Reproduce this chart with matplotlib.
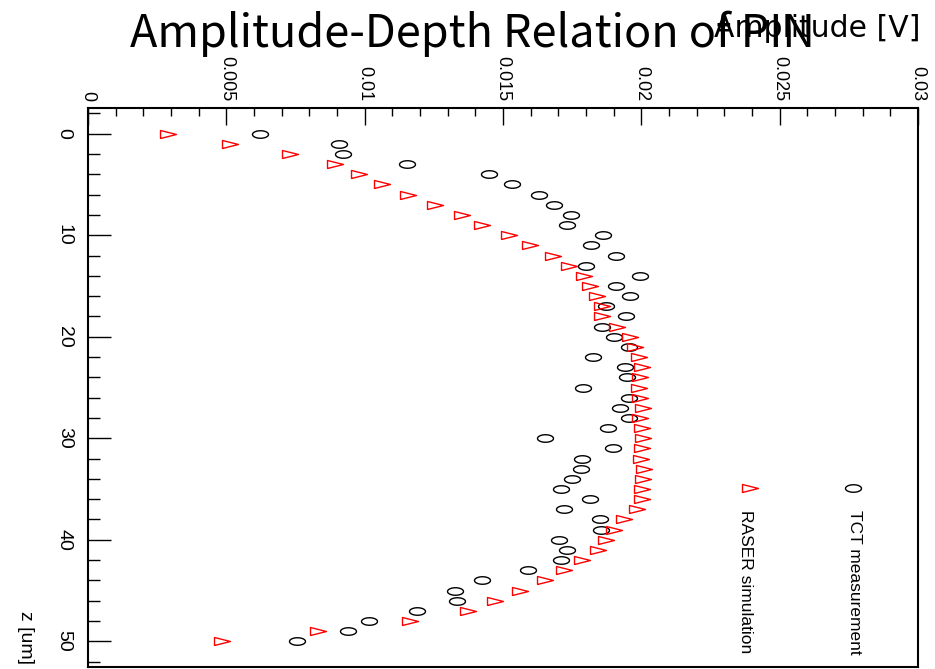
import numpy as np
import matplotlib
matplotlib.use("Agg")
import matplotlib.pyplot as plt
from matplotlib.path import Path
from matplotlib.ticker import MultipleLocator, FuncFormatter

# profundidade z (um)
z_um = np.arange(0, 51)

tct_mv = [6.22, 9.07, 9.20, 11.52, 14.51, 15.34, 16.31, 16.86, 17.46, 17.31,
          18.63, 18.19, 19.08, 17.99, 19.96, 19.08, 19.60, 18.72, 19.45, 18.57,
          19.01, 19.55, 18.27, 19.40, 19.47, 17.89, 19.54, 19.23, 19.54, 18.81,
          16.50, 18.96, 17.85, 17.82, 17.49, 17.10, 18.13, 17.21, 18.51, 18.55,
          17.04, 17.31, 17.09, 15.90, 14.23, 13.27, 13.35, 11.88, 10.14, 9.41,
          7.56]

# RASER simulation, amplitude em mV
raser_mv = [2.89, 5.13, 7.30, 8.91, 9.80, 10.64, 11.56, 12.55, 13.53, 14.23,
            15.23, 15.98, 16.82, 17.40, 17.92, 18.15, 18.41, 18.58, 18.57, 19.12,
            19.58, 19.78, 19.90, 20.02, 19.96, 19.90, 19.96, 20.05, 19.96, 20.02,
            20.05, 20.02, 19.98, 20.08, 20.05, 20.02, 20.02, 19.84, 19.38, 19.02,
            18.73, 18.45, 17.85, 17.22, 16.52, 15.62, 14.71, 13.75, 11.64, 8.33,
            4.83]

tct_amp = np.array(tct_mv) * 1e-3
raser_amp = np.array(raser_mv) * 1e-3

lab_font = ['Liberation Sans', 'DejaVu Sans']

# marcadores achatados (o grafico original foi girado e esticado)
ang = np.linspace(0, 2 * np.pi, 61)
ellipse = Path(np.column_stack([np.cos(ang), 0.47 * np.sin(ang)]))
triangle = Path([(-1, -0.5), (1, 0), (-1, 0.5), (-1, -0.5)])

fig = plt.figure(figsize=(9.35, 6.69), dpi=100)
ax = fig.add_axes([88 / 935, 2.3 / 669, 830 / 935, 558.4 / 669])

ax.plot(tct_amp, z_um, ls='none', marker=ellipse, ms=11.5, mfc='none',
        mec='black', mew=1.0)
ax.plot(raser_amp, z_um, ls='none', marker=triangle, ms=11.5, mfc='none',
        mec='red', mew=1.0)

ax.set_xlim(0, 0.03)
ax.set_ylim(52.5, -2.5)

ax.xaxis.set_major_locator(MultipleLocator(0.005))
ax.xaxis.set_minor_locator(MultipleLocator(0.001))
ax.xaxis.set_major_formatter(FuncFormatter(lambda v, p: '%g' % round(v, 4)))
ax.yaxis.set_major_locator(MultipleLocator(10))
ax.yaxis.set_minor_locator(MultipleLocator(2))

ax.tick_params(axis='x', which='both', direction='in', top=True, bottom=False,
               labeltop=True, labelbottom=False, width=1.0, color='black')
ax.tick_params(axis='x', which='major', length=12, pad=5)
ax.tick_params(axis='x', which='minor', length=6)
ax.tick_params(axis='y', which='both', direction='in', left=True, right=False,
               width=1.0)
ax.tick_params(axis='y', which='major', length=16.5, pad=11)
ax.tick_params(axis='y', which='minor', length=8.5)

for lab in ax.get_xticklabels():
    lab.set_rotation(-90)
    lab.set_ha('center')
    lab.set_va('bottom')
    lab.set_family(lab_font)
    lab.set_fontsize(13)
for lab in ax.get_yticklabels():
    lab.set_rotation(-90)
    lab.set_ha('right')
    lab.set_va('center')
    lab.set_family(lab_font)
    lab.set_fontsize(14)

for sp in ax.spines.values():
    sp.set_linewidth(1.5)

# titulos dos eixos
ax.set_ylabel('z [um]', rotation=-90, ha='center', va='bottom',
              family=lab_font, fontsize=14)
ax.yaxis.label.set_rotation_mode('default')
ax.yaxis.set_label_coords(-0.075, 0.004)
ax.xaxis.set_label_position('top')
ax.set_xlabel('Amplitude [V]', ha='right', va='baseline',
              family='DejaVu Sans', fontsize=21.5)
ax.xaxis.set_label_coords(1.003, (666.7 - 37) / 558.4)

# legenda (desenhada a mao, girada como o resto)
ax.plot([0.922], [0.320], transform=ax.transAxes, ls='none', marker=ellipse,
        ms=11.5, mfc='none', mec='black', mew=1.0, clip_on=False)
ax.plot([0.798], [0.320], transform=ax.transAxes, ls='none', marker=triangle,
        ms=11.5, mfc='none', mec='red', mew=1.0, clip_on=False)
ax.text(0.924, 0.281, 'TCT measurement', transform=ax.transAxes, rotation=-90,
        ha='center', va='top', family=lab_font, fontsize=12.5)
ax.text(0.792, 0.281, 'RASER simulation', transform=ax.transAxes, rotation=-90,
        ha='center', va='top', family=lab_font, fontsize=12.5)

fig.text(0.505, 1 - 46.7 / 669, 'Amplitude-Depth Relation of PIN', ha='center',
         va='baseline', family=['Noto Sans CJK SC', 'DejaVu Sans'], fontsize=32.4)

fig.savefig('out.png', dpi=100)
